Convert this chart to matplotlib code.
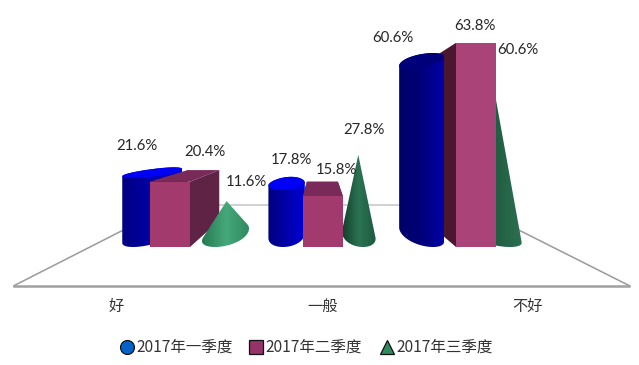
import numpy as np
import matplotlib
matplotlib.use("Agg")
import matplotlib.pyplot as plt
from matplotlib.colors import LinearSegmentedColormap
from matplotlib.patches import Polygon

# chart values
categories = ["好", "一般", "不好"]
series_names = ["2017年一季度", "2017年二季度", "2017年三季度"]
q1 = [21.6, 17.8, 60.6]
q2 = [20.4, 15.8, 63.8]
q3 = [11.6, 27.8, 60.6]

# fake 3D scene, everything goes through project()
W, H = 639, 365
VP = (320, 130)
BASE_Y = 247
PX_PER_PCT = 3.2
X0 = 93.5
BAND = 153
FLOOR_FRONT, FLOOR_BACK = -0.33, 0.36
FLOOR_PAD = 3.5
BOX_HALF = 20
BOX_DEPTH = 0.225
SHAPE_S = 0.11

cyl_offset = [-37, -40, -43]
cyl_radius = [24.5, 19.8, 21]
cone_offset = [45, 40, 34]
cone_radius = [23, 18, 26]

cyl_colors = [["#000080", "#0000a8", "#0000d0"],
              ["#000080", "#0000a8", "#0000d8"],
              ["#00006a", "#000078", "#0000a8"]]
cyl_top = ["#0000f5", "#0000f5", "#00007a"]
cone_colors = [["#267a52", "#45a87a", "#2f8a60"],
               ["#143f2c", "#2a7352", "#1d5a3f"],
               ["#184a33", "#1f5a40", "#2c7050"]]
box_front = ["#a33a6e", "#a33a6e", "#aa4378"]
box_side = ["#5f2346", "#5f2346", "#4a1630"]
box_top = ["#7a2a58", "#7a2a58", "#7a2a58"]

# draw order per group, later is on top
order = [["cyl", "box", "cone"], ["cyl", "cone", "box"], ["cone", "side", "cyl", "front"]]

label_xy = [[(137, 145.5), (205, 151.5), (246, 181.5)],
            [(291, 159.5), (336, 169.5), (364, 130.5)],
            [(393, 37.5), (475, 26.5), (518, 49.5)]]
cat_label_x = [116, 323, 528]
legend_x = [127, 256, 387]
legend_markers = ["o", "s", "^"]
legend_colors = ["#0563c8", "#943468", "#2e8b5e"]

CJK = ["Noto Sans CJK SC", "DejaVu Sans"]


def project(x, pct, s):
    y = BASE_Y - pct * PX_PER_PCT
    return x + (VP[0] - x) * s, y + (VP[1] - y) * s


def hull(points):
    pts = sorted(set((round(float(a), 3), round(float(b), 3)) for a, b in points))

    def half(seq):
        out = []
        for p in seq:
            while len(out) > 1 and ((out[-1][0] - out[-2][0]) * (p[1] - out[-2][1])
                                    - (out[-1][1] - out[-2][1]) * (p[0] - out[-2][0])) <= 0:
                out.pop()
            out.append(p)
        return out[:-1]

    return half(pts) + half(pts[::-1])


def circle(cx, r, pct, s0=SHAPE_S):
    t = np.linspace(0, 2 * np.pi, 90)
    return [project(cx + r * np.cos(a), pct, s0 + s0 * np.sin(a)) for a in t]


def shaded(ax, pts, colors, z):
    # horizontal gradient clipped to the outline
    cmap = LinearSegmentedColormap.from_list("shade", colors)
    xs = [p[0] for p in pts]
    ys = [p[1] for p in pts]
    patch = Polygon(pts, closed=True, fc="none", ec="none", zorder=z)
    ax.add_patch(patch)
    im = ax.imshow(np.linspace(0, 1, 64).reshape(1, -1), cmap=cmap, aspect="auto",
                   extent=(min(xs), max(xs), max(ys), min(ys)), zorder=z)
    im.set_clip_path(patch)


def draw_cylinder(ax, i, z):
    cx = X0 + BAND * (i + 0.5) + cyl_offset[i]
    r = cyl_radius[i]
    outline = hull(circle(cx, r, 0) + circle(cx, r, q1[i]))
    shaded(ax, outline, cyl_colors[i], z)
    ax.add_patch(Polygon(circle(cx, r, q1[i]), closed=True, fc=cyl_top[i], ec="none", zorder=z + 0.1))


def draw_cone(ax, i, z):
    cx = X0 + BAND * (i + 0.5) + cone_offset[i]
    r = cone_radius[i]
    outline = hull(circle(cx, r, 0) + [project(cx, q3[i], SHAPE_S)])
    shaded(ax, outline, cone_colors[i], z)


def box_sides(ax, i, z):
    cx = X0 + BAND * (i + 0.5)
    v = q2[i]
    l, r = cx - BOX_HALF, cx + BOX_HALF
    for x in (l, r):
        face = [project(x, 0, 0), project(x, v, 0), project(x, v, BOX_DEPTH), project(x, 0, BOX_DEPTH)]
        ax.add_patch(Polygon(face, closed=True, fc=box_side[i], ec="none", zorder=z))
    # top only shows when the box stays below the eye line
    if project(l, v, BOX_DEPTH)[1] < project(l, v, 0)[1]:
        top = [project(l, v, 0), project(r, v, 0), project(r, v, BOX_DEPTH), project(l, v, BOX_DEPTH)]
        ax.add_patch(Polygon(top, closed=True, fc=box_top[i], ec="none", zorder=z + 0.1))


def box_front_face(ax, i, z):
    cx = X0 + BAND * (i + 0.5)
    l, r = cx - BOX_HALF, cx + BOX_HALF
    face = [project(l, 0, 0), project(r, 0, 0), project(r, q2[i], 0), project(l, q2[i], 0)]
    ax.add_patch(Polygon(face, closed=True, fc=box_front[i], ec="none", zorder=z))


fig = plt.figure(figsize=(W / 100, H / 100), dpi=100)
ax = fig.add_axes([0, 0, 1, 1])

# floor
x_left, x_right = X0 - FLOOR_PAD, X0 + BAND * len(categories)
fl = project(x_left, 0, FLOOR_FRONT)
fr = project(x_right, 0, FLOOR_FRONT)
bl = project(x_left, 0, FLOOR_BACK)
br = project(x_right, 0, FLOOR_BACK)
ax.plot([fl[0], bl[0]], [fl[1], bl[1]], color="#9a9a9a", lw=1.1, zorder=1)
ax.plot([fr[0], br[0]], [fr[1], br[1]], color="#9a9a9a", lw=1.1, zorder=1)
ax.plot([bl[0], br[0]], [bl[1], br[1]], color="#c8c8c8", lw=1.2, zorder=1)
ax.plot([fl[0], fr[0]], [fl[1], fr[1]], color="#a0a0a0", lw=1.8, zorder=1)

# marks
for i in range(len(categories)):
    z = 2 + i
    for step, part in enumerate(order[i]):
        zz = z + step * 0.2
        if part == "cyl":
            draw_cylinder(ax, i, zz)
        elif part == "cone":
            draw_cone(ax, i, zz)
        elif part == "side":
            box_sides(ax, i, zz)
        elif part == "front":
            box_front_face(ax, i, zz)
        else:
            box_sides(ax, i, zz)
            box_front_face(ax, i, zz + 0.15)

# data labels
for i, group in enumerate(zip(q1, q2, q3)):
    for j, v in enumerate(group):
        ax.text(label_xy[i][j][0], label_xy[i][j][1], f"{v:.1f}%", family="Lato", fontsize=10.7,
                color="#262626", ha="center", va="center", zorder=10)

# category labels
for x, name in zip(cat_label_x, categories):
    ax.text(x, 306, name, family=CJK, fontsize=11, color="#333333", ha="center", va="center", zorder=10)

# legend
for x, name, m, c in zip(legend_x, series_names, legend_markers, legend_colors):
    ax.plot([x], [347], marker=m, ms=10, mfc=c, mec="#111111", mew=0.9, ls="none", zorder=10)
    ax.text(x + 9, 347, name, family=CJK, fontsize=11.2, color="#333333", ha="left", va="center", zorder=10)

ax.set_xlim(0, W)
ax.set_ylim(H, 0)
ax.axis("off")

fig.savefig("out.png", dpi=100)
